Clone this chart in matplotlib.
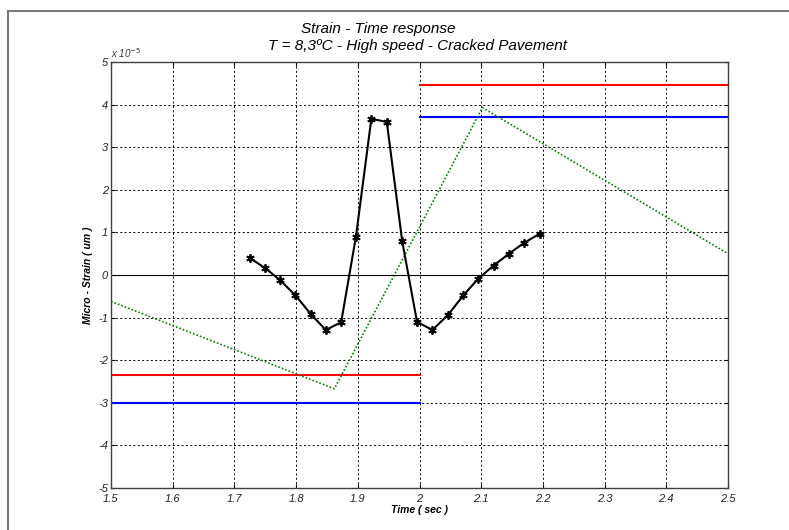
import matplotlib
matplotlib.use("Agg")
import matplotlib.pyplot as plt
from matplotlib.patches import Rectangle

# measured strain (x 1e-5) vs time
t_meas = [1.725, 1.750, 1.774, 1.799, 1.824, 1.848, 1.873, 1.897, 1.922, 1.947,
          1.972, 1.996, 2.021, 2.046, 2.071, 2.095, 2.120, 2.145, 2.170, 2.195]
s_meas = [0.40, 0.16, -0.12, -0.48, -0.92, -1.29, -1.11, 0.90, 3.67, 3.59,
          0.79, -1.10, -1.29, -0.94, -0.48, -0.09, 0.22, 0.50, 0.76, 0.97]

# model response (dotted green)
t_model = [1.5, 1.862, 2.102, 2.5]
s_model = [-0.62, -2.67, 3.93, 0.50]

# limit lines for each half
t_left = [1.5, 2.0]
t_right = [2.0, 2.5]
red_left, red_right = -2.35, 4.46
blue_left, blue_right = -3.00, 3.72

xticks = [1.5, 1.6, 1.7, 1.8, 1.9, 2.0, 2.1, 2.2, 2.3, 2.4, 2.5]
xlabels = ["1.5", "1.6", "1.7", "1.8", "1.9", "2", "2.1", "2.2", "2.3", "2.4", "2.5"]
yticks = [-5, -4, -3, -2, -1, 0, 1, 2, 3, 4, 5]

plt.rcParams['font.family'] = ['Liberation Sans', 'DejaVu Sans']
plt.rcParams['axes.unicode_minus'] = False

fig = plt.figure(figsize=(7.89, 5.30), dpi=100)
fig.patch.set_facecolor('white')

# window frame
fig.patches.append(Rectangle((8 / 789, -0.1), 1.2, 1.1 - 11 / 530,
                             transform=fig.transFigure, fill=False,
                             edgecolor='#7a7a7a', lw=1.5, zorder=0))

ax = fig.add_axes([111 / 789, 1 - 488 / 530, 617 / 789, 426 / 530])

ax.plot(t_left, [red_left, red_left], color='red', lw=1.5)
ax.plot(t_right, [red_right, red_right], color='red', lw=1.5)
ax.plot(t_left, [blue_left, blue_left], color='blue', lw=1.5)
ax.plot(t_right, [blue_right, blue_right], color='blue', lw=1.5)
ax.plot(t_model, s_model, color='#008000', lw=1.2, linestyle=(0, (1, 1.2)))
ax.axhline(0, color='black', lw=0.8)
ax.plot(t_meas, s_meas, color='black', lw=1.5,
        marker=(6, 2, 0), markersize=6, markeredgewidth=1.3)

ax.set_xlim(1.5, 2.5)
ax.set_ylim(-5, 5)
ax.set_xticks(xticks)
ax.set_xticklabels(xlabels)
ax.set_yticks(yticks)
ax.grid(True, color='black', lw=0.7, linestyle=(0, (2, 2.5)))
ax.tick_params(direction='in', length=3, labelsize=8, labelcolor='#222222',
               top=True, right=True)
ax.tick_params(axis='x', pad=4)
ax.tick_params(axis='y', pad=2)
for lab in ax.get_xticklabels() + ax.get_yticklabels():
    lab.set_fontstyle('italic')
for sp in ax.spines.values():
    sp.set_color('#404040')
    sp.set_linewidth(1.0)

ax.text(0.0, 1.005, r"x 10$^{-5}$", transform=ax.transAxes, fontsize=7,
        style='italic', color='#333333', ha='left', va='bottom')

ax.set_xlabel("Time ( sec )", fontsize=7.5, fontweight='bold', style='italic',
              labelpad=1)
ax.set_ylabel("Micro - Strain ( um )", fontsize=7.5, fontweight='bold',
              style='italic', labelpad=4)

fig.text(378 / 789, 1 - 29 / 530, "Strain - Time response", fontsize=11,
         style='italic', ha='center', va='center')
fig.text(418 / 789, 1 - 46 / 530, "T = 8,3ºC - High speed - Cracked Pavement",
         fontsize=11, style='italic', ha='center', va='center')

fig.savefig("out.png", dpi=100, facecolor='white')
